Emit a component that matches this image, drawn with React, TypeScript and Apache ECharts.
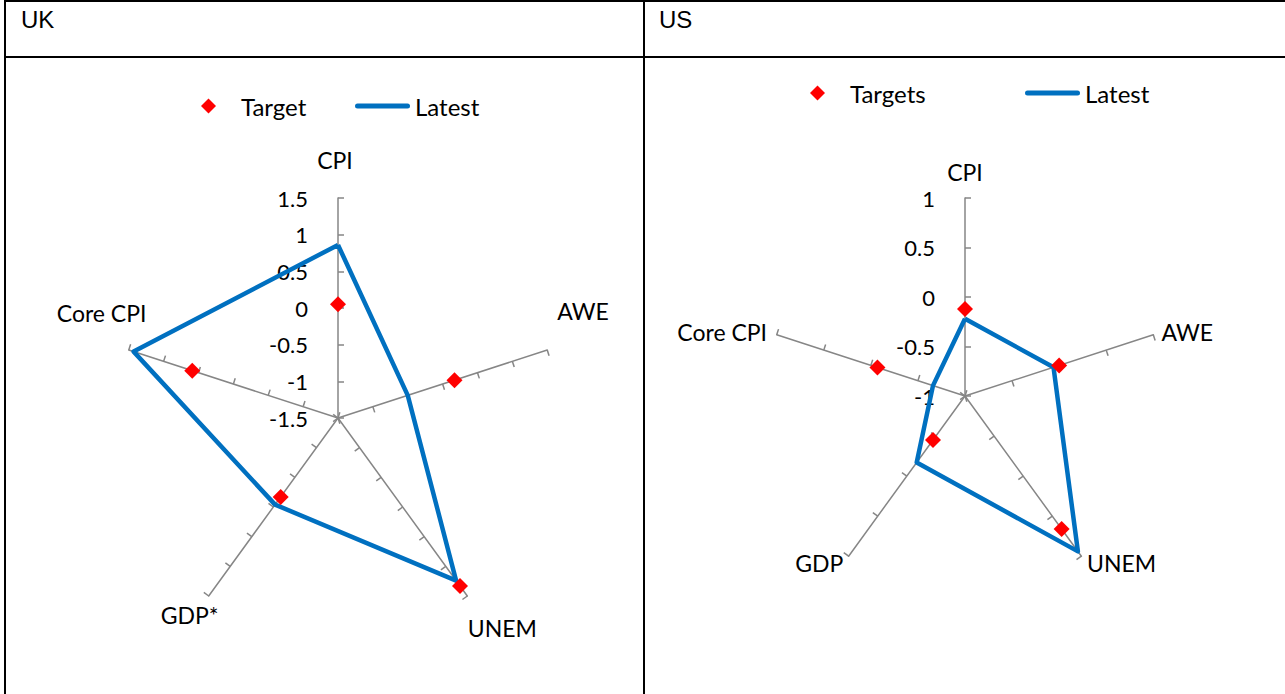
import React, { useEffect, useRef } from 'react';
import * as echarts from 'echarts';

// Categories listed clockwise from the top
const ukCategories = ['CPI', 'AWE', 'UNEM', 'GDP*', 'Core CPI'];
const ukLatest = [0.86, -0.5, 1.24, -0.04, 1.43];
const ukTarget = [0.05, 0.17, 1.33, -0.17, 0.59];
const ukMin = -1.5;
const ukMax = 1.5;
const ukSplits = 6;

const usCategories = ['CPI', 'AWE', 'UNEM', 'GDP', 'Core CPI'];
const usLatest = [-0.22, -0.06, 0.94, -0.17, -0.66];
const usTarget = [-0.12, 0.0, 0.66, -0.45, -0.07];
const usMin = -1;
const usMax = 1;
const usSplits = 4;

const panelTitles = ['UK', 'US'];
const ukLegend = ['Target', 'Latest'];
const usLegend = ['Targets', 'Latest'];

// name label placement: radial gap and horizontal padding [t, r, b, l], clockwise order
const ukNameGap = [38, 126, 40, 24, 120];
const ukNamePad = [
  [0, 6, 0, 0],
  [0, 168, 0, 0],
  [0, 0, 0, 23],
  [0, 10, 0, 0],
  [0, 0, 0, 174],
];
const usNameGap = [26, 10, 9, 9, 10];
const usNamePad = [
  [0, 0, 0, 0],
  [0, 0, 0, 49],
  [0, 0, 0, 70],
  [0, 48, 0, 0],
  [0, 90, 0, 0],
];

const FONT = 'Lato';
const AXIS_GRAY = '#868686';
const BLUE = '#0070C0';
const RED = '#FF0000';
const LINE_ICON =
  'path://M2.5,0 L52.5,0 A2.5,2.5,0,0,1,52.5,5 L2.5,5 A2.5,2.5,0,0,1,2.5,0 Z';

// ECharts places radar indicators counter-clockwise; reorder clockwise lists
const ccw = <T,>(arr: T[]): T[] => [arr[0], ...arr.slice(1).reverse()];

function buildIndicators(
  cats: string[],
  min: number,
  max: number,
  gaps: number[],
  pads: number[][]
) {
  const list = cats.map((c, i) => ({
    name: c,
    min,
    max,
    nameGap: gaps[i],
    nameTextStyle: {
      color: '#000',
      fontFamily: FONT,
      fontSize: 23,
      align: 'center',
      verticalAlign: 'middle',
      padding: pads[i],
    },
    axisLabel:
      i === 0
        ? {
            show: true,
            color: '#000',
            fontFamily: FONT,
            fontSize: 22,
            margin: 30,
          }
        : { show: false },
  }));
  return ccw(list);
}

function radarCommon() {
  return {
    shape: 'polygon',
    startAngle: 90,
    axisLine: { show: true, lineStyle: { color: AXIS_GRAY, width: 1.5 } },
    // negative length puts the ticks on the side opposite the labels
    axisTick: { show: true, length: -6, lineStyle: { color: AXIS_GRAY, width: 1.5 } },
    splitLine: { show: false },
    splitArea: { show: false },
    axisLabel: { show: false },
    nameGap: 0,
  };
}

function legendItem(name: string, isLine: boolean, left: number, top: number) {
  return {
    left,
    top,
    padding: 0,
    itemWidth: isLine ? 55 : 15,
    itemHeight: 15,
    textStyle: {
      color: '#000',
      fontFamily: FONT,
      fontSize: 24,
      padding: isLine ? [0, 0, 0, 0] : [0, 0, 0, 20],
    },
    data: [
      isLine
        ? { name, icon: LINE_ICON, itemStyle: { color: BLUE } }
        : { name, icon: 'diamond', itemStyle: { color: RED } },
    ],
    selectedMode: false,
  };
}

export default function App() {
  const ref = useRef<HTMLDivElement>(null);
  useEffect(() => {
    if (!ref.current) return;
    const chart = echarts.init(ref.current, undefined, { renderer: 'svg' });
    const borderStyle = { stroke: '#000', lineWidth: 2 };
    chart.setOption({
      animation: false,
      backgroundColor: '#fff',
      graphic: [
        { type: 'line', shape: { x1: 5, y1: 0, x2: 5, y2: 694 }, style: borderStyle },
        { type: 'line', shape: { x1: 4, y1: 1, x2: 1285, y2: 1 }, style: borderStyle },
        { type: 'line', shape: { x1: 4, y1: 57, x2: 1285, y2: 57 }, style: borderStyle },
        { type: 'line', shape: { x1: 644, y1: 0, x2: 644, y2: 694 }, style: borderStyle },
        {
          type: 'text',
          left: 21,
          top: 7,
          style: { text: panelTitles[0], fontFamily: 'Liberation Sans', fontSize: 24, fill: '#000' },
        },
        {
          type: 'text',
          left: 659,
          top: 7,
          style: { text: panelTitles[1], fontFamily: 'Liberation Sans', fontSize: 24, fill: '#000' },
        },
      ],
      legend: [
        legendItem(ukLegend[0], false, 201, 94),
        legendItem(ukLegend[1], true, 355, 94),
        legendItem(usLegend[0], false, 810, 81),
        legendItem(usLegend[1], true, 1025, 81),
      ],
      radar: [
        {
          ...radarCommon(),
          center: [338, 418],
          radius: 220,
          splitNumber: ukSplits,
          indicator: buildIndicators(ukCategories, ukMin, ukMax, ukNameGap, ukNamePad),
        },
        {
          ...radarCommon(),
          center: [965, 396],
          radius: 198,
          splitNumber: usSplits,
          indicator: buildIndicators(usCategories, usMin, usMax, usNameGap, usNamePad),
        },
      ],
      series: [
        {
          type: 'radar',
          radarIndex: 0,
          symbol: 'none',
          lineStyle: { color: BLUE, width: 4.5 },
          itemStyle: { color: BLUE },
          data: [{ name: ukLegend[1], value: ccw(ukLatest) }],
        },
        {
          type: 'radar',
          radarIndex: 0,
          symbol: 'diamond',
          symbolSize: 16,
          lineStyle: { width: 0, opacity: 0 },
          itemStyle: { color: RED },
          data: [{ name: ukLegend[0], value: ccw(ukTarget) }],
        },
        {
          type: 'radar',
          radarIndex: 1,
          symbol: 'none',
          lineStyle: { color: BLUE, width: 4.5 },
          itemStyle: { color: BLUE },
          data: [{ name: usLegend[1], value: ccw(usLatest) }],
        },
        {
          type: 'radar',
          radarIndex: 1,
          symbol: 'diamond',
          symbolSize: 16,
          lineStyle: { width: 0, opacity: 0 },
          itemStyle: { color: RED },
          data: [{ name: usLegend[0], value: ccw(usTarget) }],
        },
      ],
    });
    return () => chart.dispose();
  }, []);
  return (
    <div
      ref={ref}
      style={{ position: 'absolute', left: 0, top: 0, width: 1285, height: 694, background: '#fff' }}
    />
  );
}
